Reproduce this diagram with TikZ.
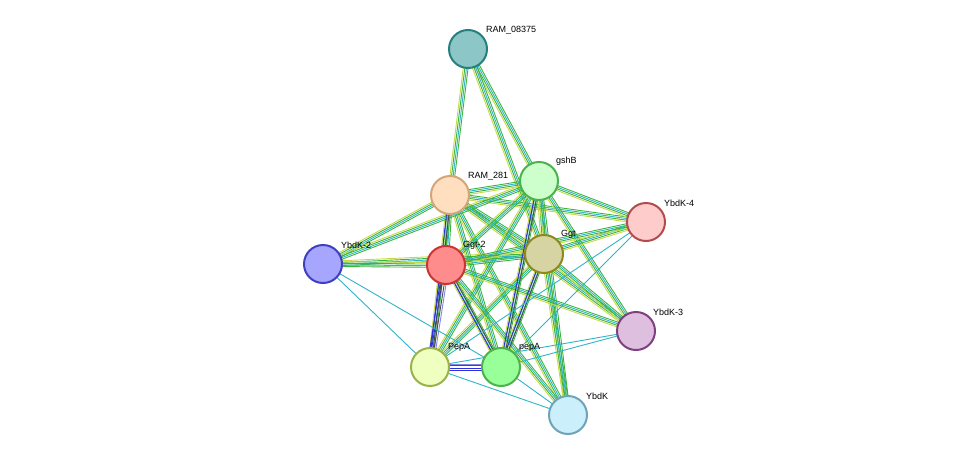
\documentclass[tikz,border=0pt]{standalone}
\usepackage{fontspec}
\setmainfont{Liberation Sans}
\usetikzlibrary{calc}
\begin{document}
\begin{tikzpicture}[x=1pt,y=-1pt,
  nd/.style={circle,minimum size=38pt,inner sep=0pt,line width=2pt},
  lb/.style={font=\fontsize{9}{10}\selectfont,anchor=south west,inner sep=1pt}]
\useasboundingbox (0,0) rectangle (975,461);
\definecolor{cyg}{HTML}{C8D948}\definecolor{cgr}{HTML}{3CB43C}
\definecolor{ccy}{HTML}{30B4C8}\definecolor{cbl}{HTML}{3030D8}
\coordinate (A) at (468,49); \coordinate (R) at (450,195);
\coordinate (G) at (539,181); \coordinate (Y4) at (646,222);
\coordinate (T) at (544,254); \coordinate (T2) at (446,265);
\coordinate (Y2) at (323,264); \coordinate (Y3) at (636,331);
\coordinate (P) at (430,367); \coordinate (p) at (501,367);
\coordinate (Y) at (568,415);
\newcommand\bline[4]{\draw[#4,line width=0.9pt] ($(#1)!#3!90:(#2)$) -- ($(#2)!#3!-90:(#1)$);}
\newcommand\bund[2]{\bline{#1}{#2}{-2.4pt}{cyg}\bline{#1}{#2}{-0.8pt}{cgr}\bline{#1}{#2}{0.8pt}{ccy}\bline{#1}{#2}{2.4pt}{cgr}}
\foreach \a/\b in {A/R,A/G,A/T,R/G,R/Y4,R/T,R/T2,R/Y2,R/Y3,R/P,R/p,R/Y,G/Y4,G/T,G/T2,G/Y2,G/Y3,G/P,G/p,G/Y,T/Y4,T/T2,T/Y2,T/Y3,T/P,T/p,T/Y,T2/Y2,T2/Y4,T2/p,T2/Y,T2/Y3}{\bund{\a}{\b}}
\foreach \a/\b in {T2/P,R/P,P/p,T2/p,G/p,T/p}{\bline{\a}{\b}{-1.2pt}{cbl}\bline{\a}{\b}{1.2pt}{black!70}}
\foreach \a/\b in {T2/P,P/p}{\bline{\a}{\b}{-3pt}{cbl}\bline{\a}{\b}{3pt}{cbl!60}}
\foreach \a/\b in {Y2/P,Y2/p,P/Y,p/Y3,P/Y3,p/Y4,p/Y,P/Y4}{\draw[ccy,line width=0.9pt] (\a)--(\b);}
\node[nd,fill=teal!45!white,draw=teal!70!gray] (nA) at (A) {};
\node[nd,fill=orange!25!white,draw=brown!70!white] (nR) at (R) {};
\node[lb] at (467,181) {RAM\_281};
\node[nd,fill=green!20!white,draw=green!40!gray] (nG) at (G) {};
\node[nd,fill=red!20!white,draw=red!40!gray] (nY4) at (Y4) {};
\node[nd,fill=yellow!40!gray!60!white,draw=olive!80!gray] (nT) at (T) {};
\node[nd,fill=red!45!white,draw=red!60!gray] (nT2) at (T2) {};
\node[nd,fill=blue!35!white,draw=blue!50!gray] (nY2) at (Y2) {};
\node[nd,fill=violet!25!white,draw=violet!50!gray] (nY3) at (Y3) {};
\node[nd,fill=lime!25!white,draw=lime!40!gray] (nP) at (P) {};
\node[nd,fill=green!40!white,draw=green!40!gray] (np) at (p) {};
\node[nd,fill=cyan!20!white,draw=cyan!40!gray] (nY) at (Y) {};
\node[lb] at (485,35) {RAM\_08375};
\node[lb] at (555,167) {gshB};
\node[lb] at (663,208) {YbdK-4};
\node[lb] at (560,240) {Ggt};
\node[lb] at (462,251) {Ggt-2};
\node[lb] at (340,250) {YbdK-2};
\node[lb] at (652,317) {YbdK-3};
\node[lb] at (447,353) {PepA};
\node[lb] at (518,353) {pepA};
\node[lb] at (585,401) {YbdK};
\end{tikzpicture}
\end{document}
